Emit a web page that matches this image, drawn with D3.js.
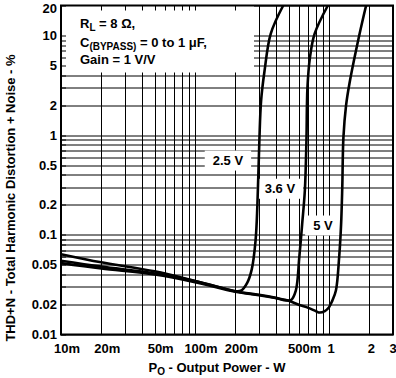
<!DOCTYPE html>
<html>
<head>
<meta charset="utf-8">
<script src="https://cdn.jsdelivr.net/npm/d3@7"></script>
<style>
  body { margin: 0; background: #fff; }
  text { font-family: "Liberation Sans", Arial, Helvetica, sans-serif; font-weight: bold; fill: #000; }
</style>
</head>
<body>
<div id="chart"></div>
<script>
// tick labels
var xTickValues = [0.01, 0.02, 0.05, 0.1, 0.2, 0.5, 1, 2, 3];
var xTickLabels = ["10m", "20m", "50m", "100m", "200m", "500m", "1", "2", "3"];
var yTickValues = [0.01, 0.02, 0.05, 0.1, 0.2, 0.5, 1, 2, 5, 10, 20];
var yTickLabels = ["0.01", "0.02", "0.05", "0.1", "0.2", "0.5", "1", "2", "5", "10", "20"];

// THD+N (%) vs output power (W)
var power25 = [0.01, 0.02, 0.05, 0.1, 0.15, 0.2, 0.22, 0.245, 0.265, 0.283, 0.292, 0.302, 0.311, 0.33, 0.367, 0.455];
var thd25   = [0.055, 0.048, 0.041, 0.0345, 0.030, 0.0272, 0.0275, 0.033, 0.045, 0.088, 0.2, 0.88, 2.2, 4.4, 10.4, 20];

var power36 = [0.01, 0.02, 0.05, 0.1, 0.2, 0.3, 0.4, 0.48, 0.52, 0.565, 0.6, 0.63, 0.66, 0.678, 0.69, 0.72, 0.78, 0.98];
var thd36   = [0.052, 0.046, 0.040, 0.0335, 0.0268, 0.0248, 0.0232, 0.022, 0.0222, 0.0276, 0.06, 0.128, 0.28, 0.88, 3.0, 6.0, 10.4, 20];

var power5 = [0.01, 0.02, 0.05, 0.1, 0.2, 0.3, 0.4, 0.5, 0.6, 0.7, 0.8, 0.85, 0.93, 1.0, 1.06, 1.125, 1.19, 1.23, 1.255, 1.28, 1.34, 1.42, 1.69, 1.89];
var thd5   = [0.064, 0.053, 0.043, 0.0345, 0.0272, 0.025, 0.0233, 0.0218, 0.0198, 0.0185, 0.0171, 0.0166, 0.0172, 0.0188, 0.022, 0.0276, 0.06, 0.128, 0.3, 0.95, 2.0, 3.3, 10.4, 20];

var seriesNames = ["2.5 V", "3.6 V", "5 V"];
var labelPower = [0.176, 0.43, 0.90];
var labelThd = [0.556, 0.29, 0.124];

var series = [
  {name: seriesNames[0], p: power25, t: thd25},
  {name: seriesNames[1], p: power36, t: thd36},
  {name: seriesNames[2], p: power5, t: thd5}
];

var W = 396, H = 378;
var margin = {top: 5.5, right: 3, bottom: 43.5, left: 61};
var width = W - margin.left - margin.right,
    height = H - margin.top - margin.bottom;

var svg = d3.select("#chart").append("svg")
    .attr("width", W)
    .attr("height", H);

var g = svg.append("g")
    .attr("transform", "translate(" + margin.left + "," + margin.top + ")");

var x = d3.scaleLog().domain([0.01, 3]).range([0, width]);
var y = d3.scaleLog().domain([0.01, 20]).range([height, 0]);

// grid
var gridX = x.ticks(), gridY = y.ticks();
g.append("g").selectAll("line").data(gridX).join("line")
    .attr("x1", d => Math.round(x(d)) + 0.5).attr("x2", d => Math.round(x(d)) + 0.5)
    .attr("y1", 0).attr("y2", height)
    .attr("stroke", "#000").attr("stroke-width", 1);
g.append("g").selectAll("line").data(gridY).join("line")
    .attr("y1", d => Math.round(y(d)) + 0.5).attr("y2", d => Math.round(y(d)) + 0.5)
    .attr("x1", 0).attr("x2", width)
    .attr("stroke", "#000").attr("stroke-width", 1);

// legend box covers the grid
g.append("rect")
    .attr("x", 0).attr("y", 0)
    .attr("width", 193).attr("height", 67)
    .attr("fill", "#fff");

// inner ticks along top and left
g.append("g").selectAll("line").data(gridX).join("line")
    .attr("x1", d => Math.round(x(d)) + 0.5).attr("x2", d => Math.round(x(d)) + 0.5)
    .attr("y1", 0).attr("y2", 5)
    .attr("stroke", "#000");
g.append("g").selectAll("line").data(gridY).join("line")
    .attr("y1", d => Math.round(y(d)) + 0.5).attr("y2", d => Math.round(y(d)) + 0.5)
    .attr("x1", 0).attr("x2", 5)
    .attr("stroke", "#000");

// series label boxes
var labels = g.append("g").selectAll("g").data(series).join("g")
    .attr("transform", (d, i) => "translate(" + x(labelPower[i]) + "," + y(labelThd[i]) + ")");
labels.append("text")
    .attr("text-anchor", "middle")
    .attr("dy", "0.35em")
    .style("font-size", "13px")
    .text(d => d.name);
labels.each(function() {
  var t = d3.select(this).select("text");
  var w = t.node().getComputedTextLength() + 16;
  d3.select(this).insert("rect", "text")
    .attr("x", -w / 2).attr("y", -10)
    .attr("width", w).attr("height", 20)
    .attr("fill", "#fff");
});

// curves
var line = d3.line()
    .curve(d3.curveCatmullRom.alpha(0.5))
    .x(d => x(d[0]))
    .y(d => y(d[1]));

g.append("g").selectAll("path").data(series).join("path")
    .attr("d", d => line(d.p.map((v, i) => [v, d.t[i]])))
    .attr("fill", "none")
    .attr("stroke", "#000")
    .attr("stroke-width", 2.6)
    .attr("stroke-linejoin", "round");

// frame
g.append("rect")
    .attr("x", 0).attr("y", 0)
    .attr("width", width).attr("height", height)
    .attr("fill", "none")
    .attr("stroke", "#000")
    .attr("stroke-width", 2);

// tick labels
var nudge = {"500m": 10, "3": -2};
g.append("g").selectAll("text").data(xTickValues).join("text")
    .attr("x", (d, i) => x(d) + (xTickLabels[i].slice(-1) === "m" ? 6 : 2) + (nudge[xTickLabels[i]] || 0))
    .attr("y", height + 18.5)
    .attr("text-anchor", "middle")
    .style("font-size", "13px")
    .text((d, i) => xTickLabels[i]);

g.append("g").selectAll("text").data(yTickValues).join("text")
    .attr("x", -4)
    .attr("y", d => Math.max(y(d), 2.5))
    .attr("dy", "0.35em")
    .attr("text-anchor", "end")
    .style("font-size", "13px")
    .text((d, i) => yTickLabels[i]);

// legend text
var leg = g.append("g").style("font-size", "13px");
var t1 = leg.append("text").attr("x", 19).attr("y", 22);
t1.append("tspan").text("R");
t1.append("tspan").attr("dy", 3).style("font-size", "10px").text("L");
t1.append("tspan").attr("dy", -3).text(" = 8 \u03A9,");

var t2 = leg.append("text").attr("x", 19).attr("y", 41);
t2.append("tspan").text("C");
t2.append("tspan").attr("dy", 3).style("font-size", "10px").text("(BYPASS)");
t2.append("tspan").attr("dy", -3).text(" = 0 to 1 \u03BCF,");

leg.append("text").attr("x", 19).attr("y", 58).text("Gain = 1 V/V");

// axis titles
var xt = svg.append("text")
    .attr("x", 217).attr("y", 372)
    .attr("text-anchor", "middle")
    .style("font-size", "13px");
xt.append("tspan").text("P");
xt.append("tspan").attr("dy", 3).style("font-size", "10px").text("O");
xt.append("tspan").attr("dy", -3).text(" - Output Power - W");

svg.append("text")
    .attr("transform", "translate(15,198) rotate(-90)")
    .attr("text-anchor", "middle")
    .style("font-size", "13px")
    .text("THD+N - Total Harmonic Distortion + Noise - %");
</script>
</body>
</html>
